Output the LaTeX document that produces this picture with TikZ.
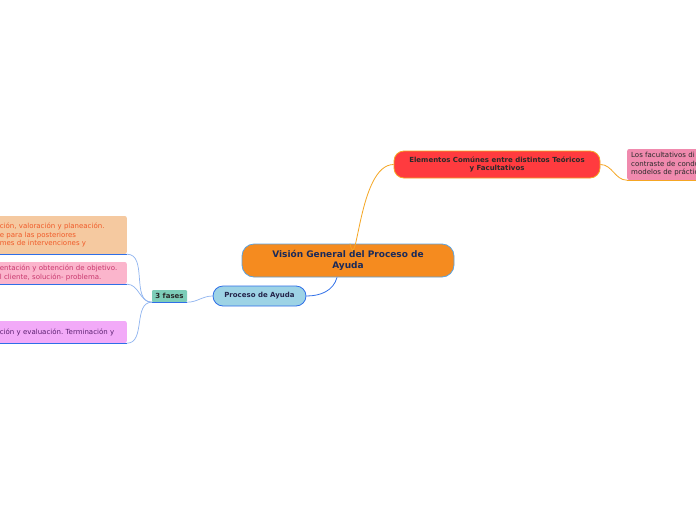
\documentclass[tikz,border=0pt]{standalone}
\usepackage{fontspec}
\setmainfont{DejaVu Sans}
\usepackage{xcolor}
\usepackage{tikz}
\usetikzlibrary{arrows.meta,positioning,calc}
\frenchspacing
\definecolor{rootfill}{HTML}{F58B1F}
\definecolor{rootline}{HTML}{5BA3E0}
\definecolor{roottext}{HTML}{1A2A5A}
\definecolor{subfill}{HTML}{9DD3E5}
\definecolor{linkblue}{HTML}{2F6FE8}
\definecolor{softblue}{HTML}{8FB4F0}
\definecolor{tealfill}{HTML}{7DCDB8}
\definecolor{redfill}{HTML}{FF3B3F}
\definecolor{linkorange}{HTML}{F5A623}
\definecolor{peachfill}{HTML}{F5C9A0}
\definecolor{peachtext}{HTML}{F05A28}
\definecolor{pinkfill}{HTML}{FBB5CC}
\definecolor{pinktext}{HTML}{C8386E}
\definecolor{violetfill}{HTML}{F2AAF8}
\definecolor{violettext}{HTML}{5A2070}
\definecolor{rosefill}{HTML}{F08AAE}
\definecolor{darktext}{HTML}{2A2A2A}
\tikzset{
  rootnode/.style={draw=rootline, line width=0.8pt, rounded corners=12pt, fill=rootfill, align=center, text=roottext, font=\fontsize{9}{11}\selectfont\bfseries, minimum width=212pt, minimum height=33pt, inner sep=2pt},
  topicnode/.style={rounded corners=10pt, align=center, font=\fontsize{7}{8.5}\selectfont\bfseries, inner sep=2pt},
  phasebox/.style={rounded corners=2pt, align=left, font=\fontsize{7}{8.5}\selectfont, inner xsep=3pt, inner ysep=2pt, text width=124pt, anchor=east},
  uline/.style={draw=linkblue, line width=1pt},
  bluelink/.style={draw=linkblue, line width=0.8pt},
  paleline/.style={draw=softblue, line width=0.7pt},
  orangelink/.style={draw=linkorange, line width=0.8pt}
}
\begin{document}
\begin{tikzpicture}[x=1pt, y=-1pt]
  \useasboundingbox[fill=white] (0,0) rectangle (696,520);
  \clip (0,0) rectangle (696,520);

  \node[rootnode] (root) at (348,260.5) {Visión General del Proceso de\\Ayuda};
  \node[topicnode, draw=linkblue, line width=0.8pt, fill=subfill, text=darktext!85!blue, minimum width=93pt, minimum height=20pt] (proceso) at (259.5,296) {Proceso de Ayuda};
  \node[topicnode, rounded corners=1pt, fill=tealfill, text=darktext, minimum width=35pt, minimum height=12pt, inner sep=1pt] (fases) at (169.5,296) {3 fases};
  \draw[uline] (fases.south west) -- (fases.south east);
  \node[topicnode, draw=linkorange, line width=0.8pt, fill=redfill, text=darktext, minimum width=206pt, minimum height=27pt] (elementos) at (497,164.5) {Elementos Comúnes entre distintos Teóricos\\y Facultativos};

  % fases del proceso (cortadas por el borde)
  \node[phasebox, fill=peachfill, text=peachtext, minimum height=38pt] (fase1) at (127,235) {ción, valoración y planeación.\\e para las posteriores\\mes de intervenciones y};
  \node[phasebox, fill=pinkfill, text=pinktext, minimum height=22pt] (fase2) at (127,273) {entación y obtención de objetivo.\\l cliente, solución- problema.};
  \node[phasebox, fill=violetfill, text=violettext, minimum height=22pt] (fase3) at (127,332) {ción y evaluación. Terminación y};
  \foreach \f in {fase1,fase2,fase3}
    \draw[uline] (\f.south west) -- (\f.south east);

  \node[rounded corners=2pt, fill=rosefill, text=darktext, align=left, font=\fontsize{7}{8.5}\selectfont, inner xsep=4pt, inner ysep=2pt, text width=100pt, minimum height=31pt, anchor=west] (facultativos) at (627,164.5) {Los facultativos di\\contraste de condu\\modelos de práctic};
  \draw[orangelink] (facultativos.south west) -- (facultativos.south east);

  \draw[bluelink] ($(root.south)+(-11,0)$) to[out=-105, in=0] (proceso.east);
  \draw[orangelink] ($(root.north)+(2,0)$) to[out=-78, in=180] (elementos.west);
  \draw[orangelink] (elementos.east) to[out=0, in=180] (facultativos.south west);
  \draw[paleline] (proceso.west) to[out=180, in=0] (fases.south east);
  \foreach \f in {fase1,fase2,fase3}
    \draw[paleline] (fases.south west) to[out=180, in=0] (\f.south east);
\end{tikzpicture}
\end{document}
